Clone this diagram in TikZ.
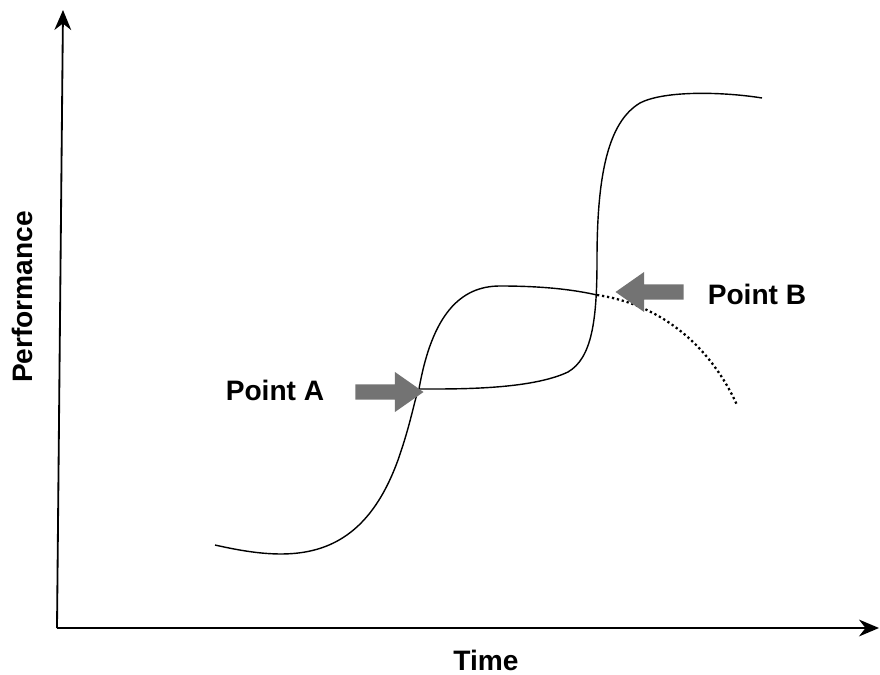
\documentclass[tikz,border=0pt]{standalone}
\usepackage{fontspec}
\setmainfont{Liberation Sans}
\usetikzlibrary{arrows.meta, positioning, shapes.arrows}

\tikzset{
  label text/.style={font=\fontsize{20}{24}\selectfont\bfseries},
  block arrow/.style={single arrow, fill=black!55, draw=none,
    inner xsep=0pt, inner ysep=0.18cm,
    minimum height=1.7cm, minimum width=1cm,
    single arrow head extend=0.3cm, single arrow tip angle=70},
}

\begin{document}
\begin{tikzpicture}[>={Stealth[length=0.5cm, width=0.42cm]}, x=0.025cm, y=-0.025cm]
        \useasboundingbox (0,0) rectangle (880,675);
        % Axes
        \coordinate (origin) at (57,628);
        \coordinate (ytop) at (63,10);
        \coordinate (xend) at (879,628);
        \draw [->, line width=1.3pt] (origin) -- (ytop);
        \draw [->, line width=1.3pt] (origin) -- (xend);
        \node [label text, rotate=90] (perf) at (22,297) {Performance};
        \node [label text] (time) at (486,660) {Time};
        % First S-curve
        \coordinate (start1) at (215,545);
        \coordinate (pA) at (419,389);
        \coordinate (pB) at (597,295);
        \coordinate (end1) at (737,405);
        \draw [line width=1pt] (start1) .. controls (290,562) and (360,565) .. (398,460)
            .. controls (412,420) and (414,400) .. (pA)
            .. controls (432,315) and (460,286) .. (500,286)
            .. controls (545,286) and (575,290) .. (pB);
        \draw [line width=1.6pt, dotted] (pB) .. controls (665,305) and (712,350) .. (end1);
        % Second S-curve
        \coordinate (end2) at (762,98);
        \draw [line width=1pt] (pA) .. controls (455,389) and (530,390) .. (568,372)
            .. controls (592,358) and (597,320) .. (597,260)
            .. controls (597,175) and (608,122) .. (640,103)
            .. controls (665,90) and (725,92) .. (end2);
        % Arrows and labels
        \node [block arrow] (arrowA) at (384,392) {};
        \node [block arrow, shape border rotate=180] (arrowB) at (655,292) {};
        \node [label text] (labelA) at (275,390) {Point A};
        \node [label text] (labelB) at (757,294) {Point B};
\end{tikzpicture}
\end{document}
